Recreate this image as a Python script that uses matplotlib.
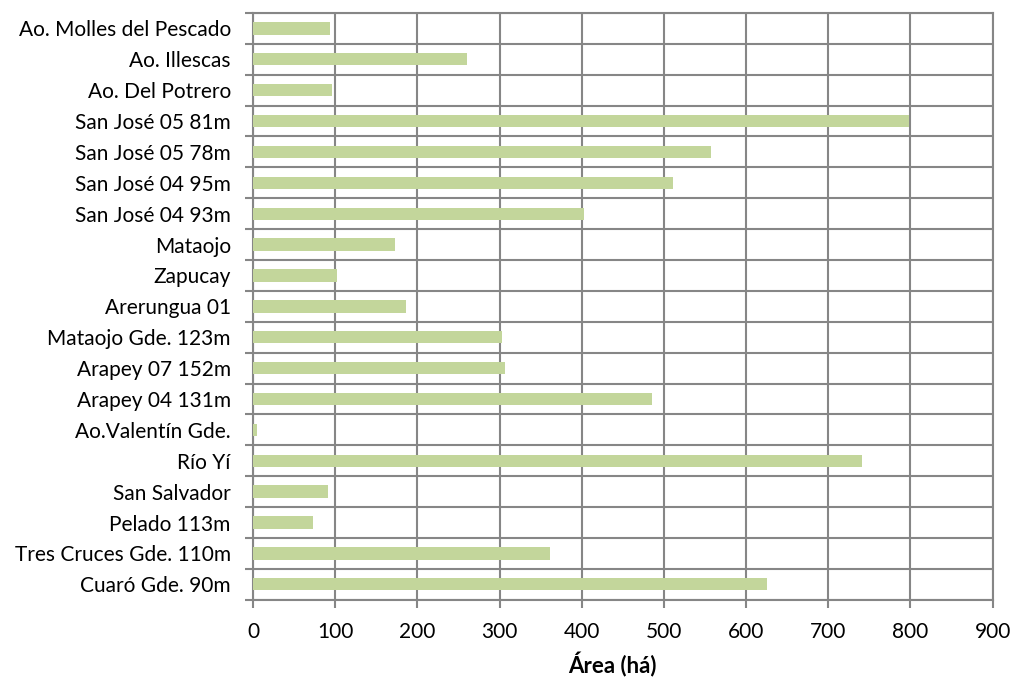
import matplotlib
matplotlib.use("Agg")
import matplotlib.pyplot as plt
import numpy as np

plt.rcParams['font.family'] = ['Lato', 'DejaVu Sans']

categories = [
    "Ao. Molles del Pescado", "Ao. Illescas", "Ao. Del Potrero",
    "San José 05 81m", "San José 05 78m", "San José 04 95m", "San José 04 93m",
    "Mataojo", "Zapucay", "Arerungua 01", "Mataojo Gde. 123m",
    "Arapey 07 152m", "Arapey 04 131m", "Ao.Valentín Gde.", "Río Yí",
    "San Salvador", "Pelado 113m", "Tres Cruces Gde. 110m", "Cuaró Gde. 90m",
]
values = [94, 261, 96, 798, 557, 511, 403, 173, 102, 186, 303, 307, 485, 4.5, 741,
          91, 73, 362, 625]
xticks = [0, 100, 200, 300, 400, 500, 600, 700, 800, 900]

fig = plt.figure(figsize=(10.16, 6.8), dpi=100)
ax = fig.add_axes([0.249, 0.118, 0.728, 0.863])

n = len(categories)
ypos = np.arange(n)[::-1]
ax.barh(ypos, values, height=0.4, color="#c3d69b", zorder=3)

ax.set_xlim(0, 900)
ax.set_ylim(-0.5, n - 0.5)
ax.set_xticks(xticks)
ax.set_xticklabels([str(t) for t in xticks], fontsize=15)

ax.set_yticks(np.arange(n + 1) - 0.5)
ax.set_yticklabels([])
ax.set_yticks(ypos, minor=True)
ax.set_yticklabels(categories, minor=True, fontsize=15)
ax.tick_params(axis='y', which='minor', length=0, pad=16)
ax.tick_params(axis='y', which='major', length=6, width=1.5, color="#868686")
ax.tick_params(axis='x', which='major', length=6, width=1.5, color="#868686", pad=10)

ax.grid(True, which='major', color="#868686", linewidth=1.5, zorder=0)
for s in ax.spines.values():
    s.set_color("#868686")
    s.set_linewidth(1.5)

ax.set_xlabel("Área (há)", fontsize=16, fontweight='bold')
ax.xaxis.set_label_coords(0.486, -0.09)

fig.savefig("out.png", dpi=100)
